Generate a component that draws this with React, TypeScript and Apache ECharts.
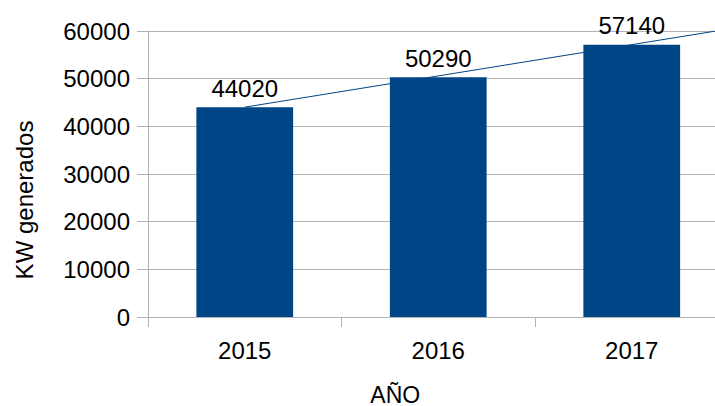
import React, { useEffect, useRef } from "react";
import * as echarts from "echarts";

const years = ["2015", "2016", "2017"];
const kwValues = [44020, 50290, 57140];
const trendX = [0, 2.5];
const trendY = [44020, 60420];
const yTicks = { min: 0, max: 60000, interval: 10000 };

const FONT = "Liberation Sans";
const BLUE = "#004586";
const GRAY = "#b3b3b3";

export default function App() {
  const ref = useRef<HTMLDivElement>(null);
  useEffect(() => {
    if (!ref.current) return;
    const chart = echarts.init(ref.current, undefined, { renderer: "svg" });
    chart.setOption({
      animation: false,
      textStyle: { fontFamily: FONT },
      grid: { left: 148, top: 31, width: 580.5, height: 286, containLabel: false, outerBoundsMode: "none" },
      xAxis: [
        {
          type: "category",
          data: years,
          name: "AÑO",
          nameLocation: "middle",
          nameGap: 66,
          nameTextStyle: { fontSize: 23, color: "#000", fontFamily: FONT, padding: [0, 86, 0, 0] },
          axisLine: { onZero: false, lineStyle: { color: GRAY, width: 1 } },
          axisTick: { show: true, alignWithLabel: false, length: 10, lineStyle: { color: GRAY } },
          axisLabel: { fontSize: 24, color: "#000", margin: 21, fontFamily: FONT },
        },
        {
          type: "value",
          min: -0.5,
          max: 2.5,
          show: false,
          position: "bottom",
          splitLine: { show: false },
          axisLine: { show: false, onZero: false },
          axisTick: { show: false },
          axisLabel: { show: false },
        },
      ],
      yAxis: {
        type: "value",
        min: yTicks.min,
        max: yTicks.max,
        interval: yTicks.interval,
        name: "KW generados",
        nameLocation: "middle",
        nameGap: 112,
        nameTextStyle: { fontSize: 24, color: "#000", fontFamily: FONT, padding: [0, 52, 0, 0] },
        axisLine: { show: true, onZero: false, lineStyle: { color: GRAY, width: 1 } },
        axisTick: { show: true, length: 11, lineStyle: { color: GRAY } },
        axisLabel: {
          fontSize: 24,
          color: "#000",
          margin: 18,
          fontFamily: FONT,
          formatter: (v: number) => String(v),
        },
        splitLine: { show: true, lineStyle: { color: GRAY, width: 1 } },
      },
      series: [
        {
          type: "bar",
          data: kwValues,
          barWidth: "50%",
          itemStyle: { color: BLUE },
          label: {
            show: true,
            position: "top",
            distance: 7,
            fontSize: 24,
            color: "#000",
            fontFamily: FONT,
          },
        },
        {
          type: "line",
          xAxisIndex: 1,
          data: trendX.map((x, i) => [x, trendY[i]]),
          showSymbol: false,
          symbol: "none",
          lineStyle: { color: BLUE, width: 1 },
          z: 5,
        },
      ],
    });
    return () => chart.dispose();
  }, []);
  return (
    <div
      ref={ref}
      style={{ position: "fixed", left: 0, top: 0, width: 715, height: 406, background: "#fff" }}
    />
  );
}
